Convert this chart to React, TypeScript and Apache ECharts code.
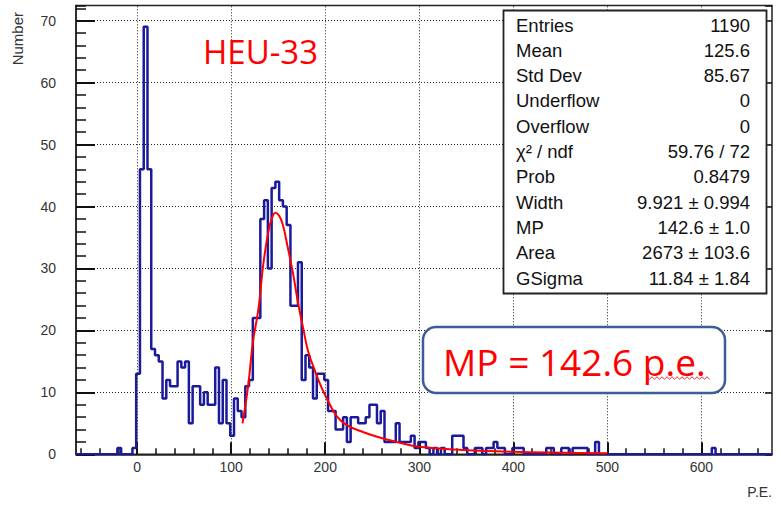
import React, { useEffect, useRef } from "react";
import * as echarts from "echarts";

// Histogram: bins of width 4 starting at -65 (P.E.)
const BIN_MIN = -65;
const BIN_WIDTH = 4;
const COUNTS = [
  0, 0, 0, 0, 0, 0, 0, 0, 0, 0, 0, 1, 0, 0, 0, 1,
  13, 46, 69, 46, 17, 16, 15, 9, 12, 11, 11, 15, 14, 15, 5, 11,
  11, 8, 10, 8, 8, 14, 5, 12, 5, 3, 9, 7, 6, 11, 12, 22,
  22, 38, 41, 30, 43, 44, 41, 40, 37, 24, 24, 31, 12, 16, 14, 9,
  13, 13, 12, 7, 7, 4, 4, 6, 2, 6, 6, 5, 5, 6, 8, 8,
  5, 7, 2, 2, 2, 5, 2, 2, 2, 3, 1, 2, 2, 1, 0, 1,
  0, 1, 0, 0, 3, 3, 3, 1, 0, 0, 1, 1, 0, 1, 1, 2,
  1, 1, 0, 0, 1, 1, 1, 0, 0, 0, 0, 0, 0, 1, 1, 0,
  0, 1, 1, 0, 1, 1, 1, 1, 0, 0, 2, 0, 0, 0, 0, 0,
  0, 0, 0, 0, 0, 0, 0, 0, 0, 0, 0, 0, 0, 0, 0, 0,
  0, 0, 0, 0, 0, 0, 0, 0, 0, 1, 0, 0, 0, 0, 0, 0,
  0, 0, 0, 0, 0, 0, 0, 0, 0,
];

// Fit curve
const FIT_X = [112, 118, 123, 129, 134, 139, 143, 147, 151, 155, 160, 166, 171, 177, 182, 189, 196, 203, 212, 222, 240, 258, 276, 300, 347, 400, 453, 500];
const FIT_Y = [5, 11, 18, 23.5, 30.5, 35.5, 38, 39, 38.5, 37, 33.5, 29, 24.5, 20, 16.5, 13.5, 10.8, 8.6, 6.2, 4.8, 3.6, 2.7, 2, 1.2, 0.7, 0.4, 0.25, 0.15];

const X_MIN = -65;
const X_MAX = 675;
const Y_MAX = 72.45;
const X_MAJOR = [0, 100, 200, 300, 400, 500, 600];
const X_MINOR = [-60, -40, -20, 20, 40, 60, 80, 120, 140, 160, 180, 220, 240, 260, 280, 320, 340, 360, 380, 420, 440, 460, 480, 520, 540, 560, 580, 620, 640, 660];

const STAT_LABELS = ["Entries", "Mean", "Std Dev", "Underflow", "Overflow", "χ² / ndf", "Prob", "Width", "MP", "Area", "GSigma"];
const STAT_VALUES = ["1190", "125.6", "85.67", "0", "0", "59.76 / 72", "0.8479", "9.921 ± 0.994", "142.6 ± 1.0", "2673 ± 103.6", "11.84 ± 1.84"];

const TITLE_TEXT = "HEU-33";
const NOTE_TEXT = "MP = 142.6 p.e.";
const X_TITLE = "P.E.";
const Y_TITLE = "Number";

export default function App() {
  const ref = useRef<HTMLDivElement>(null);
  useEffect(() => {
    document.body.style.margin = "0";
    if (!ref.current) return;
    const chart = echarts.init(ref.current, null, { renderer: "svg" });

    const histData: number[][] = COUNTS.map((c, i) => [BIN_MIN + i * BIN_WIDTH, c]);
    histData.push([BIN_MIN + COUNTS.length * BIN_WIDTH, COUNTS[COUNTS.length - 1]]);
    const fitData = FIT_X.map((x, i) => [x, FIT_Y[i]]);

    const font = "Liberation Sans";
    const axisCol = "#222";
    const tickCol = "#111";
    const statTexts: any[] = [];
    STAT_LABELS.forEach((lab, i) => {
      const y = 25 + i * 25.3;
      statTexts.push({
        type: "text", x: 516, y, z: 101,
        style: { text: lab, fill: "#111", fontSize: 18.5, fontFamily: font, align: "left", verticalAlign: "middle" },
      });
      statTexts.push({
        type: "text", x: 750, y, z: 101,
        style: { text: STAT_VALUES[i], fill: "#111", fontSize: 18.5, fontFamily: font, align: "right", verticalAlign: "middle" },
      });
    });

    const squiggle: number[][] = [];
    for (let k = 0; k <= 25; k++) squiggle.push([647 + k * 2.5, 378 + (k % 2 ? 1.2 : -1.2)]);

    const noLine = { show: false, onZero: false };

    chart.setOption({
      animation: false,
      backgroundColor: "#fff",
      grid: { left: 76, right: 9, top: 5.5, bottom: 51.7, show: true, borderColor: axisCol, borderWidth: 1.5, backgroundColor: "transparent" },
      xAxis: [
        {
          type: "value", min: X_MIN, max: X_MAX, position: "bottom",
          axisLine: { show: true, onZero: false, lineStyle: { color: axisCol, width: 1.5 } },
          axisTick: { show: true, inside: true, length: 12, customValues: X_MAJOR, lineStyle: { color: tickCol, width: 2 } },
          axisLabel: { show: true, customValues: X_MAJOR, margin: 6, fontSize: 14, color: "#333", fontFamily: font },
          splitLine: { show: false },
        },
        {
          type: "value", min: X_MIN, max: X_MAX, position: "bottom",
          axisLine: noLine,
          axisTick: { show: true, inside: true, length: 6, customValues: X_MINOR, lineStyle: { color: tickCol, width: 1.5 } },
          axisLabel: { show: false },
          splitLine: { show: false },
        },
      ],
      yAxis: [
        {
          type: "value", min: 0, max: Y_MAX, interval: 10, position: "left",
          axisLine: { show: true, onZero: false, lineStyle: { color: axisCol, width: 1.5 } },
          axisTick: { show: true, inside: true, length: 19, lineStyle: { color: tickCol, width: 2 } },
          axisLabel: {
            margin: 20, fontSize: 14, color: "#333", fontFamily: font, showMaxLabel: false,
            formatter: (v: number) => (Math.abs(v % 10) < 1e-9 ? String(v) : ""),
          },
          splitLine: { show: true, lineStyle: { type: [1, 2], color: "#222", width: 1 } },
        },
        {
          type: "value", min: 0, max: Y_MAX, interval: 2, position: "left",
          axisLine: noLine,
          axisTick: { show: true, inside: true, length: 10, lineStyle: { color: tickCol, width: 1.5 } },
          axisLabel: { show: false },
          splitLine: { show: false },
        },
        {
          type: "value", min: 0, max: Y_MAX, interval: 10, position: "right",
          axisLine: noLine,
          axisTick: { show: true, inside: true, length: 7, lineStyle: { color: tickCol, width: 1.5 } },
          axisLabel: { show: false },
          splitLine: { show: false },
        },
      ],
      series: [
        {
          type: "line", xAxisIndex: 0, yAxisIndex: 0, data: histData, step: "end", symbol: "none",
          lineStyle: { color: "#1a1a9c", width: 2.5 }, z: 3,
          markLine: {
            silent: true, symbol: ["none", "none"], label: { show: false },
            lineStyle: { type: [1, 2], color: "#222", width: 1 },
            data: X_MAJOR.map((v) => ({ xAxis: v })),
          },
        },
        {
          type: "line", xAxisIndex: 0, yAxisIndex: 0, data: fitData, smooth: 0.4, symbol: "none",
          lineStyle: { color: "#ff0000", width: 2 }, z: 4,
        },
      ],
      graphic: [
        {
          type: "text", x: 17.5, y: 12, rotation: Math.PI / 2,
          style: { text: Y_TITLE, fill: "#333", fontSize: 15, fontFamily: font, align: "right", verticalAlign: "middle" },
        },
        {
          type: "text", x: 772, y: 492,
          style: { text: X_TITLE, fill: "#333", fontSize: 14, fontFamily: font, align: "right", verticalAlign: "middle" },
        },
        {
          type: "text", x: 203, y: 51, z: 100,
          style: { text: TITLE_TEXT, fill: "#ff0000", fontSize: 33, fontFamily: "Open Sans", align: "left", verticalAlign: "middle" },
        },
        {
          type: "rect", z: 100,
          shape: { x: 503.5, y: 10.5, width: 263, height: 283 },
          style: { fill: "#fff", stroke: "#222", lineWidth: 1.8 },
        },
        ...statTexts,
        {
          type: "rect", z: 100,
          shape: { x: 423, y: 327, width: 302, height: 66, r: 13 },
          style: { fill: "#fff", stroke: "#3b5f93", lineWidth: 2.5 },
        },
        {
          type: "text", x: 443, y: 361, z: 101,
          style: { text: NOTE_TEXT, fill: "#ff0000", fontSize: 37, fontFamily: "Open Sans", align: "left", verticalAlign: "middle" },
        },
        {
          type: "polyline", z: 102,
          shape: { points: squiggle },
          style: { stroke: "#e03030", lineWidth: 1, fill: "none" },
        },
      ],
    });
    return () => chart.dispose();
  }, []);
  return <div ref={ref} style={{ width: 781, height: 506 }} />;
}
